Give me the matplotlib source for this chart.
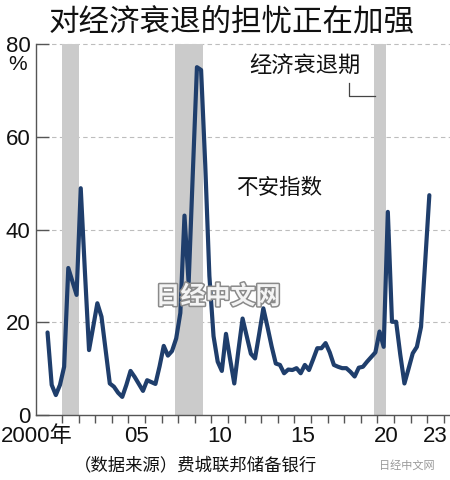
import numpy as np
from matplotlib import pyplot as plt
import matplotlib.patheffects as pe

NUM_FONT = ['Liberation Sans Narrow', 'Liberation Sans', 'Noto Sans CJK SC', 'DejaVu Sans']
plt.rcParams['font.family'] = NUM_FONT

# quarterly anxious index, 2000Q1 .. 2023Q1 (%)
START_YEAR = 2000
values = [
	17.8, 6.5, 4.3, 6.5,        # 2000
	10.4, 31.7, 28.8, 25.9,     # 2001
	48.9, 31.0, 14.0, 19.0,     # 2002
	24.1, 21.2, 14.0, 6.8,      # 2003
	6.1, 4.8, 3.9, 6.5,         # 2004
	9.5, 8.2, 6.7, 5.2,         # 2005
	7.5, 7.1, 6.7, 10.5,        # 2006
	14.9, 12.8, 13.8, 16.5,     # 2007
	22.0, 43.0, 28.4, 52.0,     # 2008
	75.0, 74.4, 54.0, 30.0,     # 2009
	17.0, 11.5, 9.5, 17.5,      # 2010
	12.0, 6.8, 14.0, 20.8,      # 2011
	17.0, 13.2, 12.2, 17.5,     # 2012
	23.0, 19.0, 14.8, 11.1,     # 2013
	10.8, 9.0, 9.8, 9.7,        # 2014
	10.1, 9.0, 10.8, 9.7,       # 2015
	12.0, 14.4, 14.4, 15.5,     # 2016
	13.5, 10.8, 10.4, 10.1,     # 2017
	10.1, 9.3, 8.3, 10.2,       # 2018
	10.4, 11.5, 12.5, 13.5,     # 2019
	18.0, 14.7, 43.8, 20.1,     # 2020
	20.1, 13.0, 6.8, 10.0,      # 2021
	13.3, 14.7, 19.0, 33.0,     # 2022
	47.4,                       # 2023
]

recessions = [(2001.0, 2002.0), (2007.83, 2009.5), (2019.8, 2020.52)]

x_labels = ["2000年", "05", "10", "15", "20", "23"]
x_label_pos = [1999.45, 2005.5, 2010.5, 2015.5, 2020.55, 2023.5]
y_ticks = [0, 20, 40, 60, 80]

TITLE = "对经济衰退的担忧正在加强"
SOURCE = "（数据来源）费城联邦储备银行"

LINE_COLOR = '#1f3e6c'
SPINE_COLOR = '#555555'
SHADE_COLOR = '#cbcbcb'
GRID_COLOR = '#bdbdbd'
CJK = ['Noto Sans CJK SC', 'DejaVu Sans']
TICK_SIZE = 16

fig = plt.figure(figsize=(4.5, 4.8), dpi=100)
ax = fig.add_axes([36/450, 65/480, 414/450, 371/480])

xs = [START_YEAR + 0.125 + 0.25*i for i in range(len(values))]

for a, b in recessions:
	ax.axvspan(a, b, color=SHADE_COLOR, lw=0, zorder=0.5)

ax.hlines(y_ticks[1:], 1999.43, 2024.37, colors=GRID_COLOR, linestyles=(0, (4, 3)),
	linewidth=0.8, zorder=0.3, clip_on=False)

ax.plot(xs, values, color=LINE_COLOR, linewidth=3.0, solid_joinstyle='round',
	solid_capstyle='round', zorder=5)

ax.set_xlim(1999.43, 2024.37)
ax.set_ylim(0, 80)

for s in ['top', 'right']:
	ax.spines[s].set_visible(False)
for s in ['left', 'bottom']:
	ax.spines[s].set_color(SPINE_COLOR)
	ax.spines[s].set_linewidth(1.0)

ax.set_yticks(y_ticks)
ax.set_yticklabels([str(v) for v in y_ticks])
ax.tick_params(axis='y', direction='in', length=9, width=1.0, color=SPINE_COLOR,
	labelsize=TICK_SIZE, pad=4, labelcolor='#111111')
ax.set_xticks(range(2001, 2025))
ax.set_xticklabels([])
ax.tick_params(axis='x', direction='out', length=6, width=1.0, color=SPINE_COLOR)

for lab, pos in zip(x_labels, x_label_pos):
	ax.text(pos, -4.7, lab, ha='center', va='center', fontsize=TICK_SIZE, color='#111111',
		family=NUM_FONT, clip_on=False)

fig.text(18/450, 1 - 65/480, "%", ha='center', va='center', fontsize=15, color='#111111')

fig.text(232/450, 1 - 22/480, TITLE, ha='center', va='center', fontsize=22,
	family=CJK, weight='medium', color='#111111')

ax.text(2015.64, 75.4, "经济衰退期", ha='center', va='center', fontsize=16, family=CJK, color='#111111')
ax.plot([2018.3, 2018.3, 2019.85], [71.6, 68.75, 68.75], color='#444444', linewidth=0.9, zorder=4)
ax.text(2014.1, 48.9, "不安指数", ha='center', va='center', fontsize=15.5, family=CJK, color='#111111')

# watermarks
fig.text(218/450, 1 - 297/480, "日经中文网", ha='center', va='center', fontsize=18, family=CJK,
	color='#f4f4f4', weight='bold',
	path_effects=[pe.withStroke(linewidth=2.2, foreground='#8a8a8a')])
fig.text(407/450, 1 - 465/480, "日经中文网", ha='center', va='center', fontsize=8, family=CJK,
	color='#9a9a9a')

fig.text(196/450, 1 - 465/480, SOURCE, ha='center', va='center', fontsize=12.5, family=CJK,
	color='#111111')

plt.savefig("out.png", dpi=100)
